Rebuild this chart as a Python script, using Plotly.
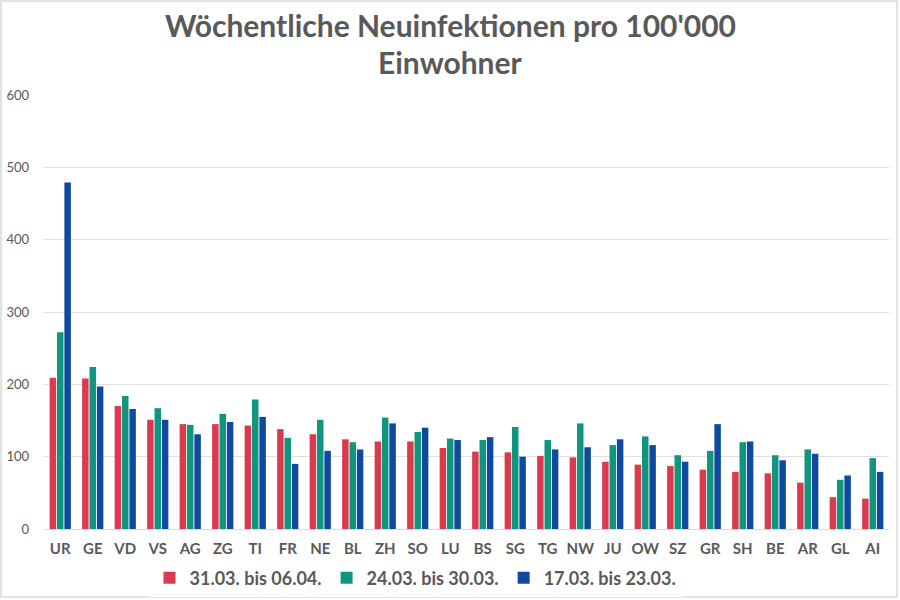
import plotly.graph_objects as go

cantons = ["UR", "GE", "VD", "VS", "AG", "ZG", "TI", "FR", "NE", "BL", "ZH", "SO", "LU",
           "BS", "SG", "TG", "NW", "JU", "OW", "SZ", "GR", "SH", "BE", "AR", "GL", "AI"]
week_3103_0604 = [209, 208, 170, 151, 145, 145, 143, 138, 131, 124, 121, 121, 112,
                  107, 106, 101, 99, 93, 89, 87, 82, 79, 77, 64, 44, 42]
week_2403_3003 = [272, 224, 184, 167, 144, 159, 179, 126, 151, 120, 154, 134, 125,
                  123, 141, 123, 146, 116, 128, 102, 108, 120, 102, 110, 68, 98]
week_1703_2303 = [479, 197, 166, 151, 131, 148, 155, 90, 108, 110, 146, 140, 123,
                  127, 100, 110, 113, 124, 116, 93, 145, 121, 95, 104, 74, 79]
series_names = ["31.03. bis 06.04.", "24.03. bis 30.03.", "17.03. bis 23.03."]
colors = ["#DA3A4E", "#10957F", "#0F4AA0"]
y_ticks = [0, 100, 200, 300, 400, 500, 600]
title_lines = ["Wöchentliche Neuinfektionen pro 100'000", "Einwohner"]

fig = go.Figure()
for name, vals, col in zip(series_names, [week_3103_0604, week_2403_3003, week_1703_2303], colors):
    fig.add_trace(go.Bar(x=cantons, y=vals, name="<b>" + name + "</b>",
                         marker=dict(color=col, line=dict(width=0))))

font_color = "#595959"
L, R, T, B = 44, 11, 95, 71
PH = 600 - T - B
PW = 900 - L - R

def py(pix):
    return (600 - B - pix) / PH

def px(pix):
    return (pix - L) / PW

annotations = [
    dict(text="<b>" + title_lines[0] + "</b>", x=px(450), xref="paper", xanchor="center",
         y=py(25), yref="paper", yanchor="middle", showarrow=False,
         font=dict(size=30, color=font_color, family="Lato, sans-serif")),
    dict(text="<b>" + title_lines[1] + "</b>", x=px(450), xref="paper", xanchor="center",
         y=py(62), yref="paper", yanchor="middle", showarrow=False,
         font=dict(size=30, color=font_color, family="Lato, sans-serif")),
]

fig.update_layout(
    width=900, height=600,
    paper_bgcolor="white", plot_bgcolor="white",
    margin=dict(l=L, r=R, t=T, b=B, autoexpand=False),
    barmode="group", bargap=0.32, bargroupgap=0.12,
    font=dict(family="Lato, sans-serif", color=font_color),
    annotations=annotations,
    xaxis=dict(showgrid=False, showline=True, linecolor="#d9d9d9", linewidth=1, automargin=False,
               tickfont=dict(size=15, color=font_color, family="Lato, sans-serif", weight="bold"),
               ticks="", ticklabelstandoff=6),
    yaxis=dict(range=[0, 600], tickvals=y_ticks, showgrid=True, gridcolor="#e0e0e0", gridwidth=1,
               zeroline=False, showline=False, ticklabelstandoff=14, automargin=False,
               tickfont=dict(size=13, color=font_color, family="Lato, sans-serif")),
    legend=dict(orientation="h", x=0.5 - 51 / PW, xanchor="center", y=py(578), yanchor="middle",
                font=dict(size=18, color=font_color, family="Lato, sans-serif"),
                itemwidth=30, traceorder="normal"),
    shapes=[dict(type="rect", xref="paper", yref="paper", x0=-(L - 1) / PW, x1=1 + (R - 3) / PW,
                 y0=-(B - 3) / PH, y1=1 + (T - 1) / PH, line=dict(color="#d9d9d9", width=1.5))],
)

fig.write_html("out.html", config={"displayModeBar": False},
               post_script="document.body.style.margin='0';document.body.style.overflow='hidden';")
